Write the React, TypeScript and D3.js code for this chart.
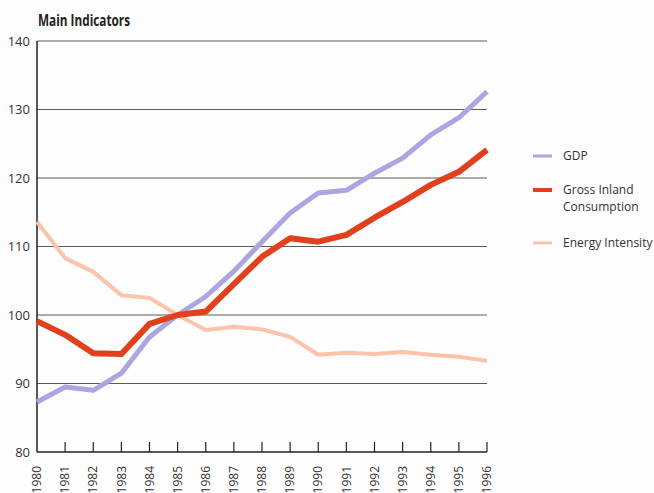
import React from "react";
import * as d3 from "d3";

const years = [1980, 1981, 1982, 1983, 1984, 1985, 1986, 1987, 1988, 1989, 1990, 1991, 1992, 1993, 1994, 1995, 1996];
const gdp = [87.3, 89.5, 89.0, 91.5, 96.8, 100.0, 102.7, 106.4, 110.7, 114.9, 117.8, 118.2, 120.7, 122.9, 126.3, 128.8, 132.6];
const grossInland = [99.1, 97.1, 94.4, 94.3, 98.7, 100.0, 100.5, 104.5, 108.5, 111.2, 110.7, 111.7, 114.2, 116.5, 119.0, 120.9, 124.1];
const energyIntensity = [113.6, 108.3, 106.3, 102.9, 102.5, 100.0, 97.8, 98.3, 97.9, 96.8, 94.2, 94.5, 94.3, 94.6, 94.2, 93.9, 93.3];
const yTicks = [80, 90, 100, 110, 120, 130, 140];

const seriesNames = ["GDP", "Gross Inland Consumption", "Energy Intensity"];
const seriesColors = ["#aba6e2", "#e2401c", "#fbc3aa"];
const seriesWidths = [5, 6, 4];

const W = 654;
const H = 493;
const left = 37;
const right = 487;
const top = 41;
const bottom = 452;

const font = "'Open Sans', 'DejaVu Sans', sans-serif";

export default function App() {
  const x = d3.scaleLinear().domain([1980, 1996]).range([left, right]);
  const y = d3.scaleLinear().domain([80, 140]).range([bottom, top]);
  const line = d3
    .line<number>()
    .x((_, i) => x(years[i]))
    .y((d) => y(d))
    .curve(d3.curveLinear);

  const series = [gdp, grossInland, energyIntensity];
  // energy intensity drawn first so the other lines sit above it
  const drawOrder = [2, 0, 1];

  const legendY = [156, 190, 243];

  return (
    <svg
      width={W}
      height={H}
      style={{ position: "absolute", left: 0, top: 0, background: "#fdfdfd" }}
    >
      <text
        x={38}
        y={26}
        fontFamily="'Open Sans', 'DejaVu Sans', sans-serif"
        fontWeight="bold"
        fontSize={15.5}
        textLength={92}
        lengthAdjust="spacingAndGlyphs"
        fill="#222"
      >
        Main Indicators
      </text>

      {/* horizontal grid */}
      {yTicks
        .filter((t) => t > 80)
        .map((t) => (
          <line key={t} x1={left} x2={right} y1={y(t)} y2={y(t)} stroke="#5b5d4a" strokeWidth={1.2} />
        ))}

      {/* y tick labels */}
      {yTicks.map((t) => (
        <text
          key={t}
          x={30}
          y={y(t)}
          dy="0.35em"
          textAnchor="end"
          fontFamily={font}
          fontSize={13}
          fill="#333"
        >
          {t}
        </text>
      ))}

      {/* axes */}
      <line x1={left} x2={left} y1={top} y2={bottom} stroke="#222" strokeWidth={1.5} />
      <line x1={left} x2={right} y1={bottom} y2={bottom} stroke="#222" strokeWidth={1.5} />
      {years.slice(1).map((yr) => (
        <line key={yr} x1={x(yr)} x2={x(yr)} y1={bottom} y2={bottom - 10} stroke="#222" strokeWidth={1.2} />
      ))}

      {/* x tick labels */}
      {years.map((yr) => (
        <text
          key={yr}
          transform={`translate(${x(yr)},466) rotate(-90)`}
          textAnchor="end"
          dy="0.35em"
          fontFamily={font}
          fontSize={12}
          fill="#333"
        >
          {yr}
        </text>
      ))}

      {/* series lines */}
      {drawOrder.map((i) => (
        <path
          key={seriesNames[i]}
          d={line(series[i]) || ""}
          fill="none"
          stroke={seriesColors[i]}
          strokeWidth={seriesWidths[i]}
          strokeLinejoin="round"
          strokeLinecap="butt"
        />
      ))}

      {/* legend */}
      {seriesNames.map((name, i) => (
        <g key={name}>
          <line
            x1={533}
            x2={552}
            y1={legendY[i]}
            y2={legendY[i]}
            stroke={seriesColors[i]}
            strokeWidth={i === 1 ? 4 : 3}
          />
          {i === 1 ? (
            <text x={563} y={legendY[i]} dy="0.35em" fontFamily={font} fontSize={12} fill="#333">
              <tspan x={563}>Gross Inland</tspan>
              <tspan x={563} dy={17}>
                Consumption
              </tspan>
            </text>
          ) : (
            <text x={563} y={legendY[i]} dy="0.35em" fontFamily={font} fontSize={12} fill="#333">
              {name}
            </text>
          )}
        </g>
      ))}
    </svg>
  );
}
